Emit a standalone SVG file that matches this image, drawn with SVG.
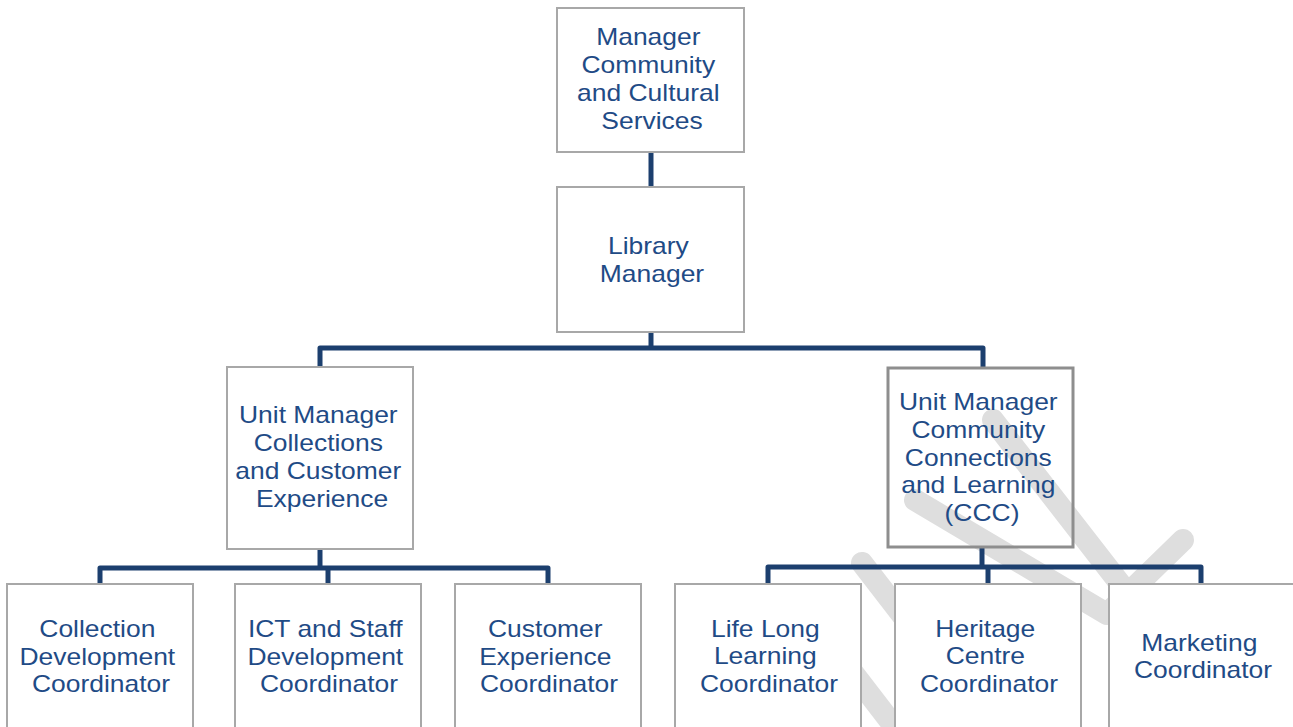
<svg xmlns="http://www.w3.org/2000/svg" width="1293" height="727" viewBox="0 0 1293 727">
  <style>
    .box { fill: #ffffff; stroke: #a8a8a8; stroke-width: 2; }
    .box-open { fill: none; stroke: #8e8e8e; stroke-width: 3; }
    .lbl { font-family: "Liberation Sans", Arial, sans-serif; font-size: 23px; fill: #1f4b86; text-anchor: middle; }
    .wire { fill: none; stroke: #1c3f6e; stroke-width: 5; stroke-linejoin: round; }
    .mark { fill: none; stroke: #dedede; stroke-width: 22; stroke-linecap: round; stroke-linejoin: round; }
  </style>
  <rect x="0" y="0" width="1293" height="727" fill="#ffffff"/>

  <!-- faint background stamp bands -->
  <g id="stamp">
    <path class="mark" d="M993 420 L1125 590"/>
    <path class="mark" d="M915 500 L1107 614 L1183 540"/>
    <path class="mark" d="M862 563 L960 690"/>
    <path class="mark" d="M820 630 L920 760"/>
  </g>

  <g id="connectors">
    <path class="wire" d="M651 152 V187"/>
    <path class="wire" d="M651 332 V348"/>
    <path class="wire" d="M320 367 V348 H983 V368"/>
    <path class="wire" d="M320 549 V568"/>
    <path class="wire" d="M100 584 V568 H548 V584"/>
    <path class="wire" d="M328 568 V584"/>
    <path class="wire" d="M982 547 V567"/>
    <path class="wire" d="M768 584 V567 H1201 V584"/>
    <path class="wire" d="M988 567 V584"/>
  </g>

  <g id="manager-ccs">
    <rect class="box" x="557" y="8" width="187" height="144"/>
    <text class="lbl" transform="translate(652 0) scale(1.15 1)">
      <tspan x="0" y="45">Manager</tspan>
      <tspan x="0" y="73">Community</tspan>
      <tspan x="0" y="101">and Cultural</tspan>
      <tspan x="0" y="129">Services</tspan>
    </text>
  </g>

  <g id="library-manager">
    <rect class="box" x="557" y="187" width="187" height="145"/>
    <text class="lbl" transform="translate(652 0) scale(1.15 1)">
      <tspan x="0" y="254">Library</tspan>
      <tspan x="0" y="282">Manager</tspan>
    </text>
  </g>

  <g id="unit-collections">
    <rect class="box" x="227" y="367" width="186" height="182"/>
    <text class="lbl" transform="translate(322 0) scale(1.15 1)">
      <tspan x="0" y="423">Unit Manager</tspan>
      <tspan x="0" y="451">Collections</tspan>
      <tspan x="0" y="479">and Customer</tspan>
      <tspan x="0" y="507">Experience</tspan>
    </text>
  </g>

  <g id="unit-ccc">
    <rect class="box-open" x="888" y="368" width="185" height="179"/>
    <text class="lbl" transform="translate(982 0) scale(1.15 1)">
      <tspan x="0" y="410">Unit Manager</tspan>
      <tspan x="0" y="438">Community</tspan>
      <tspan x="0" y="466">Connections</tspan>
      <tspan x="0" y="493">and Learning</tspan>
      <tspan x="0" y="521">(CCC)</tspan>
    </text>
  </g>

  <g id="collection-dev">
    <rect class="box" x="7" y="584" width="186" height="170"/>
    <text class="lbl" transform="translate(101 0) scale(1.15 1)">
      <tspan x="0" y="637">Collection</tspan>
      <tspan x="0" y="665">Development</tspan>
      <tspan x="0" y="692">Coordinator</tspan>
    </text>
  </g>

  <g id="ict-staff">
    <rect class="box" x="235" y="584" width="186" height="170"/>
    <text class="lbl" transform="translate(329 0) scale(1.15 1)">
      <tspan x="0" y="637">ICT and Staff</tspan>
      <tspan x="0" y="665">Development</tspan>
      <tspan x="0" y="692">Coordinator</tspan>
    </text>
  </g>

  <g id="customer-exp">
    <rect class="box" x="455" y="584" width="186" height="170"/>
    <text class="lbl" transform="translate(549 0) scale(1.15 1)">
      <tspan x="0" y="637">Customer</tspan>
      <tspan x="0" y="665">Experience</tspan>
      <tspan x="0" y="692">Coordinator</tspan>
    </text>
  </g>

  <g id="lifelong">
    <rect class="box" x="675" y="584" width="186" height="170"/>
    <text class="lbl" transform="translate(769 0) scale(1.15 1)">
      <tspan x="0" y="637">Life Long</tspan>
      <tspan x="0" y="664">Learning</tspan>
      <tspan x="0" y="692">Coordinator</tspan>
    </text>
  </g>

  <g id="heritage">
    <rect class="box" x="895" y="584" width="186" height="170"/>
    <text class="lbl" transform="translate(989 0) scale(1.15 1)">
      <tspan x="0" y="637">Heritage</tspan>
      <tspan x="0" y="664">Centre</tspan>
      <tspan x="0" y="692">Coordinator</tspan>
    </text>
  </g>

  <g id="marketing">
    <rect class="box" x="1109" y="584" width="186" height="170"/>
    <text class="lbl" transform="translate(1203 0) scale(1.15 1)">
      <tspan x="0" y="651">Marketing</tspan>
      <tspan x="0" y="678">Coordinator</tspan>
    </text>
  </g>
</svg>
